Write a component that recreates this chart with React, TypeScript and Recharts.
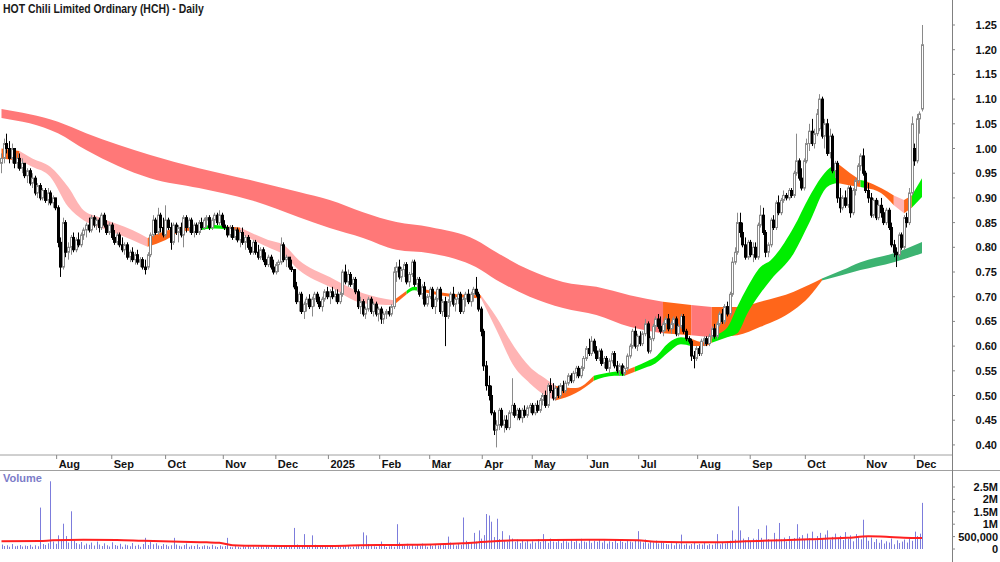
import React from 'react';
import { ComposedChart, Bar, Area, Line, XAxis, YAxis } from 'recharts';

const FONT = '"Liberation Sans", Arial, Helvetica, sans-serif';

// daily bars [open, high, low, close] in cents, Jul 2024 -> Dec 2025
const ohlc: number[][] = [
  [97,99,95,98],[98,102,97,101],[101,103,99,100],[100,101.5,97,98],[98,101,97,100],
  [100,100,96,97],[97,99,96,98],[98,99,95.5,96],[96,98,95,97],[97,97,94,94.5],
  [94.5,96,93,95.5],[95.5,96,92.5,93],[93,95,92,94],[94,94.5,90.5,91],[91,93,90,92.5],
  [92.5,93,89.5,90],[90,92,89.5,91.5],[91.5,92,89,89.5],[89.5,92,88.5,91],[91,91.5,88.5,89],
  [89,90.5,88,90],[90,90,87.5,88],[88,88.5,80,81],[81,82,74,76],[76,86,75.5,85],
  [85,85.5,78,79],[79,81,77.5,80],[80,82.5,78.5,82],[82,83,79,79.5],[79.5,82,79,81.5],
  [81.5,83,80,80.5],[80.5,83,80,82.5],[82.5,84,81.5,83.5],[83.5,85,82,84.5],[84.5,86,83,83.5],
  [83.5,86.5,83,86],[86,86.5,84,84.5],[84.5,86,83.5,85.5],[85.5,86,83,84],[84,87,83.5,86.5],
  [86.5,87,84,84.5],[84.5,85.5,82.5,83],[83,85,82.5,84.5],[84.5,85,81.5,82],[82,83.5,80.5,81],
  [81,83,80.5,82.5],[82.5,83,80,80.5],[80.5,82,79,79.5],[79.5,81,78.5,80.5],[80.5,81,77.5,78],
  [78,79.5,77,79],[79,80,77,77.5],[77.5,79,76.5,78.5],[78.5,79.5,76.5,77],[77,78,76,77.5],
  [77.5,78,75.5,76],[76,77.5,74.5,75.5],[76,79,75.5,78.5],[78.5,83,78,82.5],[82.5,86.5,82,85.5],
  [85.5,86,82.5,83],[83,88,82.5,86.5],[86.5,87,83,84],[84,86,82,82.5],[82.5,88.5,82,85.5],
  [85.5,86,83.5,84],[84,85,79.5,81],[81,85,80.5,84.5],[84.5,85,82.5,83],[83,84.5,81,84],
  [84,85,82,82.5],[82.5,86.5,80,86],[86,86.5,83,84],[84,86,83,85.5],[85.5,86,82.5,83],
  [83,85,82,84.5],[84.5,85,82.5,83],[83,85.5,82.5,85],[85,86,83.5,84],[84,86,83.5,85.5],
  [85.5,86.5,84,86],[86,86.5,83.5,84],[84,86,83.5,85.5],[85.5,87,84.5,86.5],[86.5,87,84.5,85],
  [85,87.5,84.5,86.5],[86.5,87,84,84.5],[84.5,85.5,83.5,84],[84,84.5,82,82.5],[82.5,84.5,82,84],
  [84,84.5,81.5,82],[82,84,81.5,83.5],[83.5,84,81,81.5],[81.5,83.5,80,83],[83,84,80.5,81],
  [81,82.5,79.5,82],[82,82.5,79.5,80],[80,81.5,78.5,79],[79,81.5,78.5,81],[81,81.5,78.5,79],
  [79,80.5,77.5,78],[78,80,77.5,79.5],[79.5,80,77,77.5],[77.5,79,76,76.5],[76.5,78.5,76,78],
  [78,78.5,75.5,76],[76,77.5,74.5,75],[75,77,74.5,76.5],[76.5,77.5,75,77],[77,82,76.5,80.5],
  [80.5,81,77,77.5],[77.5,78.5,76,78],[78,78,75.5,76],[76,77.5,75,75.5],[75.5,75.5,71.5,72],
  [72,73,68.5,69],[69,71,67,70.5],[70.5,71,66.5,67],[67,69,65.5,68.5],[68.5,70,67,69.5],
  [69.5,70.5,67.5,68],[68,70,66,69.5],[69.5,71,68,70.5],[70.5,71,68.5,69],[69,70,67.5,68],
  [68,70,67,69.5],[69.5,71.5,69,71],[71,72,69.5,70],[70,71.5,68.5,71],[71,72,69.5,70],
  [70,71.5,69,70.5],[70.5,71.5,68.5,69],[69,71,68.5,70.5],[70.5,75.5,70,75],[75,76.5,72.5,73],
  [73,75.5,72,74.5],[74.5,75,72,72.5],[72.5,74,71.5,73.5],[73.5,74,70.5,71],[71,71.5,67.5,68],
  [68,70,66.5,69],[69,69.5,66,66.5],[66.5,68,65.5,67.5],[67.5,70,67,69.5],[69.5,70,66.5,67],
  [67,69,66,68.5],[68.5,69,66,66.5],[66.5,68,65,67.5],[67.5,68,64.5,65.5],[65.5,67,64.5,66.5],
  [66.5,67.5,65.5,67],[67,68,66,66.5],[66.5,68.5,66,68],[68,76,67.5,75],[75,77,73,76],
  [76,77.5,73.5,74],[74,76,73,75.5],[75.5,77,74,76.5],[76.5,77,72.5,73],[73,75,72,74.5],
  [74.5,77.5,74,77],[77,77.5,72,72.5],[72.5,74,71,73.5],[73.5,74,70,70.5],[70.5,72.5,69.5,72],
  [72,73,68,68.5],[68.5,70.5,68,70],[70,72,69.5,71.5],[71.5,72,67.5,68],[68,70,66.5,69.5],
  [69.5,72,69,71.5],[71.5,72,66.5,67],[67,69.5,66,69],[69,70,60,66],[66,69.5,65.5,69],
  [69,71,68,70.5],[70.5,72,68,68.5],[68.5,70,67,69.5],[69.5,71,68.5,70.5],[70.5,71,66.5,67],
  [67,70,66.5,69.5],[69.5,71,68,70.5],[70.5,71.5,68.5,69],[69,71,68,70.5],[70.5,72,69,71.5],
  [71.5,74,70,70.5],[70.5,71,67,67.5],[67.5,68,62,63],[63,63.5,55,56],[56,57,51,52],
  [52,54,49,50],[50,52,46,46.5],[46.5,47,42,43],[43,45,39.5,44],[44,47.5,43,47],
  [47,47.5,43.5,44],[44,46,42.5,45],[45,46,43,43.5],[43.5,47,43,46.5],[46.5,53.5,46,48],
  [48,48.5,45.5,46],[46,47.5,45,47],[47,47.5,45,45.5],[45.5,47.5,44.5,47],[47,48,45.5,46],
  [46,48,45.5,47.5],[47.5,48.5,46.5,48],[48,48.5,46,46.5],[46.5,48.5,46,48],[48,49,46.5,47],
  [47,49.5,46.5,49],[49,50.5,48,50],[50,51,47.5,48],[48,52.5,47.5,52],[52,53.5,50.5,51],
  [51,52.5,49,49.5],[49.5,52,49,51.5],[51.5,52,49.5,50],[50,52.5,49.5,52],[52,53,50.5,51],
  [51,53,50.5,52.5],[52.5,54.5,52,54],[54,54.5,52.5,53],[53,55,52.5,54.5],[54.5,56,53.5,55.5],
  [55.5,56,53.5,54],[54,56,53.5,55.5],[55.5,58,55,57.5],[57.5,60,57,59.5],[59.5,61.5,58,58.5],
  [58.5,62,58,61],[61,61.5,58.5,59],[59,60,57,57.5],[57.5,59.5,57,59],[59,59.5,56,56.5],
  [56.5,58,55.5,57.5],[57.5,58,55,55.5],[55.5,57.5,54.5,57],[57,59,56.5,58.5],[58.5,59,55.5,56],
  [56,57,54.5,55],[55,56.5,54,56],[56,56.5,54,54.5],[54.5,56,54,55.5],[55.5,58.5,55,58],
  [58,60.5,57.5,60],[60,63.5,59.5,63],[63,64,59.5,60],[60,62.5,59,62],[62,63,60,60.5],
  [60.5,63,60,62.5],[62.5,65.5,62,64.5],[64.5,65,58.5,59],[59,62,58.5,61.5],[61.5,64.5,61,64],
  [64,66,63,65.5],[65.5,66.5,63.5,64],[64,66,62.5,63],[63,65,62,64.5],[64.5,66,63,65.5],
  [65.5,66.5,63,63.5],[63.5,65,62.5,64.5],[64.5,66,63.5,65.5],[65.5,66,62,62.5],[62.5,64.5,62,64],
  [64,66.5,63.5,66],[66,66.5,62.5,63],[63,63.5,61,61.5],[61.5,62,60.5,61],[61,61.5,57,58],
  [58,59,55.5,57.5],[57.5,60,57,59.5],[59.5,60,58,58.5],[58.5,61.5,58,61],[61,62,60,61.5],
  [61.5,62,60,60.5],[60.5,62.5,60,62],[62,64,61.5,63.5],[63.5,64.5,61.5,62],[62,65,61.5,64.5],
  [64.5,67,64,66.5],[66.5,67.5,64.5,65],[65,68.5,64.5,68],[68,69,66,66.5],[66.5,71,66,70.5],
  [70.5,78,70,77],[77,80,76.5,79],[79,87,78.5,85],[85,87,82,83],[83,85,80,80.5],
  [80.5,82,77.5,78],[78,81.5,77.5,81],[81,81.5,78,78.5],[78.5,81,77,80],[80,81,77.5,78],
  [78,85,77.5,84.5],[84.5,88.5,84,86.5],[86.5,88,82.5,83],[83,83.5,78,79],[79,81,78,80.5],
  [80.5,86,80,85.5],[85.5,86.5,83.5,84],[84,89.5,83.5,89],[89,90.5,86.5,87],[87,90,86.5,89.5],
  [89.5,91.5,89,90.5],[90.5,91,89.5,90],[90,92,89.5,91.5],[91.5,92,90,90.5],[90.5,95.5,90,95],
  [95,103,94.5,97.5],[97.5,98,93.5,94],[94,96,91.5,92],[92,98,91.5,97.5],[97.5,102,97,101],
  [101,105,99.5,103.5],[103.5,106,100.5,101],[101,104,100,103],[103,108,102.5,107],[104,111,103.5,110],
  [110,110.5,102,102.5],[102.5,106,100,105],[105,106,98.5,99],[99,104,98,102.5],[102.5,103,95,95.5],
  [95.5,97.5,94,97],[97,97.5,89,90],[90,92,87,88],[88,90.5,87.5,90],[90,91.5,88,88.5],
  [88.5,92.5,88,92],[92,92.5,86,87],[87,92,86.5,91.5],[91.5,94,90.5,93.5],[93.5,97,93,96.5],
  [96.5,99,95.5,98.5],[98.5,100,94.5,95],[95,95.5,91,91.5],[91.5,93,89,90],[90,91,86,86.5],
  [86.5,90,86,89.5],[89.5,90,85.5,86],[86,89.5,85.5,88.5],[88.5,90,86,87],[87,88,84.5,85],
  [85,88,84.5,87.5],[87.5,88,83.5,84],[84,85,80,80.5],[80.5,81.5,78,79],[79,80,76,78.5],
  [78.5,83,78,82.5],[82.5,83,79.5,80],[80,86.5,79.5,86],[86,87,84,85],[85,92,84.5,91],
  [91,106.5,90.5,105],[100,101,96.5,97.5],[97.5,107,97,106],[106,107.5,103,107],[108,125,107.5,121],
];

// daily volume, thousands of shares
const volumeK: number[] = [
  180,120,150,90,200,110,130,160,100,140, 120,170,90,150,110,1670,200,160,230,2730,
  300,210,550,380,1020,520,260,1520,340,240, 190,280,150,220,170,260,140,300,180,120,
  230,150,100,270,160,130,210,90,180,150, 110,240,130,170,90,200,450,160,280,190,
  230,140,120,200,170,110,150,450,180,130, 100,160,220,90,140,120,180,80,110,150,
  130,90,170,110,80,140,100,120,450,90, 70,120,90,60,110,80,130,70,100,60,
  90,120,70,140,80,60,110,90,70,130, 100,80,120,150,850,180,90,140,600,130,
  100,550,170,90,120,80,140,70,110,90, 60,130,80,100,160,120,70,90,110,140,
  90,670,550,200,130,110,90,140,300,120, 80,110,150,90,1000,260,180,140,210,120,
  160,100,190,130,220,150,90,170,120,200, 140,180,230,150,500,260,190,140,210,170,
  1270,330,240,280,650,300,750,420,560,1410, 1350,1100,480,1220,400,720,360,300,550,420,
  290,380,240,330,270,350,220,310,260,400, 280,600,330,250,420,300,270,380,240,350,
  310,260,390,280,340,230,410,300,270,360, 250,330,290,400,260,350,220,310,280,370,
  240,330,290,250,360,300,270,340,720,310, 260,380,230,300,270,340,220,290,250,200,
  180,230,150,260,190,580,170,220,140,200, 250,160,210,180,240,150,200,170,230,600,
  190,260,220,300,340,750,380,1720,750,420, 350,480,300,420,380,800,450,360,950,400,
  330,650,410,1050,380,460,300,520,350,440, 1000,480,560,390,620,430,700,350,520,650,
  410,580,750,380,490,620,440,530,360,680, 420,550,310,600,470,390,1180,520,330,460,
  280,400,250,370,220,310,260,420,190,350, 240,300,380,260,450,330,700,520,620,1860,
];

// volume moving average [bar, thousands]
const volumeMa: number[][] = [
  [0,310],[15,320],[20,350],[32,370],[45,360],[55,330],[70,290],[80,270],[85,250],[90,150],
  [95,130],[110,125],[130,125],[140,150],[155,165],[170,190],[180,230],[190,300],[200,350],[215,360],
  [235,370],[248,350],[255,290],[265,270],[280,275],[290,310],[300,340],[315,390],[330,450],[338,510],
  [345,490],[352,450],[359,440],
];

// short-term ribbon [bar, low, high, state]  p=down o=mixed l=up
const fastRibbon: any[][] = [
  [0,.98,1.0,'o'],[7,.975,.995,'p'],[12,.963,.98,'p'],[19,.943,.963,'p'],[26,.882,.922,'p'],
  [32,.855,.875,'p'],[38,.841,.861,'p'],[51,.815,.835,'p'],[57,.801,.819,'o'],[64,.815,.833,'o'],
  [71,.833,.842,'o'],[77,.834,.841,'l'],[83,.838,.845,'l'],[88,.836,.842,'o'],[93,.828,.84,'p'],
  [104,.80,.815,'p'],[110,.785,.805,'p'],[116,.754,.774,'p'],[128,.72,.74,'p'],[141,.687,.707,'p'],
  [153,.683,.693,'o'],[158,.705,.712,'l'],[161,.713,.72,'l'],[164,.71,.716,'o'],[175,.70,.706,'o'],
  [187,.697,.703,'p'],[193,.633,.659,'p'],[200,.558,.598,'p'],[206,.525,.558,'p'],[213,.497,.531,'p'],
  [216,.49,.52,'o'],[224,.505,.515,'o'],[231,.53,.54,'l'],[239,.54,.548,'l'],[243,.54,.55,'o'],
  [247,.548,.558,'l'],[252,.558,.57,'l'],[255,.565,.578,'l'],[260,.587,.606,'l'],[265,.604,.618,'l'],
  [269,.60,.615,'o'],[274,.60,.608,'o'],[277,.607,.62,'l'],[283,.618,.637,'l'],[287,.626,.68,'l'],
  [291,.667,.72,'l'],[296,.707,.76,'l'],[300,.734,.774,'l'],[309,.788,.841,'l'],[315,.849,.902,'l'],
  [322,.922,.956,'l'],[326,.93,.97,'o'],[331,.925,.95,'o'],[335,.922,.936,'l'],[337,.92,.934,'o'],
  [343,.91,.92,'o'],[348,.885,.905,'p'],[352,.869,.896,'o'],[355,.88,.905,'l'],[359,.902,.94,'l'],
];

// long-term ribbon [bar, low, high, state]  r=down o=mixed g=up
const slowRibbon: any[][] = [
  [0,1.062,1.08,'r'],[22,1.031,1.054,'r'],[33,.997,1.031,'r'],[58,.94,.987,'r'],[77,.92,.96,'r'],
  [97,.896,.936,'r'],[116,.861,.912,'r'],[128,.839,.896,'r'],[141,.819,.871,'r'],[154,.795,.851,'r'],
  [167,.788,.841,'r'],[185,.76,.815,'r'],[193,.734,.79,'r'],[206,.70,.754,'r'],[219,.677,.73,'r'],
  [232,.663,.72,'r'],[245,.639,.703,'r'],[258,.626,.69,'o'],[269,.622,.683,'r'],[277,.618,.679,'o'],
  [287,.622,.679,'o'],[296,.639,.69,'o'],[309,.673,.71,'o'],[315,.70,.724,'o'],[320,.733,.737,'g'],
  [328,.744,.754,'g'],[335,.754,.77,'g'],[348,.77,.788,'g'],[359,.788,.811,'g'],
];

const monthIdx = [21.5, 43, 64, 86.5, 107, 127.5, 147.5, 167, 187.5, 207, 228.5, 248.5, 271.5, 292, 313.5, 336.5, 356];
const monthLabels = ['Aug','Sep','Oct','Nov','Dec','2025','Feb','Mar','Apr','May','Jun','Jul','Aug','Sep','Oct','Nov','Dec'];
const priceTicks = [0.4,0.45,0.5,0.55,0.6,0.65,0.7,0.75,0.8,0.85,0.9,0.95,1.0,1.05,1.1,1.15,1.2,1.25];
const volTicks = [0, 500000, 1000000, 1500000, 2000000, 2500000];
const volTickLabels = ['0', '500,000', '1M', '1.5M', '2M', '2.5M'];

const COLORS: Record<string, string> = {
  r: '#ff7878', p: '#ffb4b4', o: '#ff661a', l: '#00ee00', g: '#3cb371',
};

const X_DOMAIN = [-0.585, 370.7];

const bars = ohlc.map(([o, h, l, c], i) => ({
  i, o: o / 100, h: h / 100, l: l / 100, c: c / 100, v: volumeK[i] * 1000,
}));

const maData = volumeMa.map(([i, k]) => ({ i, v: k * 1000 }));

// split a ribbon into runs of one colour, each run joined to the next point
function toRuns(points: any[][]) {
  const runs: { c: string; rows: any[] }[] = [];
  let cur: { c: string; rows: any[] } | null = null;
  points.forEach(([i, lo, hi, c]) => {
    const row = { i, r: [lo, hi] };
    if (!cur || cur.c !== c) {
      if (cur) cur.rows.push(row);
      cur = { c, rows: [row] };
      runs.push(cur);
    } else {
      cur.rows.push(row);
    }
  });
  return runs.filter((r) => r.rows.length > 1);
}

const slowRuns = toRuns(slowRibbon);
const fastRuns = toRuns(fastRibbon);

function Candle(props: any) {
  const { x, y, width, height, payload } = props;
  if (!payload || x == null) return null;
  const { o, h, l, c } = payload;
  const top = Math.min(y, y + height);
  const px = Math.abs(height);
  const span = h - l || 1;
  const py = (v: number) => top + ((h - v) / span) * px;
  const cx = Math.round(x + width / 2);
  const up = c >= o;
  const col = up ? '#8a8a8a' : '#000';
  const bTop = py(Math.max(o, c));
  const bBot = py(Math.min(o, c));
  return (
    <g>
      <line x1={cx + 0.5} x2={cx + 0.5} y1={top} y2={top + px} stroke={col} strokeWidth={1} />
      <rect x={cx - 0.5} y={bTop} width={2} height={Math.max(bBot - bTop, 0.5)}
        fill={up ? '#fff' : '#000'} stroke={col} strokeWidth={1} />
    </g>
  );
}

function VolBar(props: any) {
  const { x, y, width, height } = props;
  if (x == null || !height) return null;
  return <rect x={Math.round(x + width / 2)} y={y} width={1} height={height} fill="#7c7cdc" />;
}

function PriceTick(props: any) {
  const { y, payload } = props;
  return (
    <text x={997} y={y} dy={4} textAnchor="end" fontSize={11} fontWeight="bold" fontFamily={FONT} fill="#111">
      {Number(payload.value).toFixed(2)}
    </text>
  );
}

function VolTick(props: any) {
  const { y, payload } = props;
  const k = volTicks.indexOf(payload.value);
  return (
    <text x={998} y={y} dy={4} textAnchor="end" fontSize={11} fontWeight="bold" fontFamily={FONT} fill="#111">
      {volTickLabels[k]}
    </text>
  );
}

function MonthTick(props: any) {
  const { x, y, payload } = props;
  const k = monthIdx.indexOf(payload.value);
  return (
    <text x={x + 2} y={y} dy={9} textAnchor="start" fontSize={11} fontWeight="bold" fontFamily={FONT} fill="#111">
      {monthLabels[k]}
    </text>
  );
}

export default function App() {
  return (
    <div style={{ position: 'absolute', left: 0, top: 0, width: 1000, height: 562, background: '#fff', overflow: 'hidden', fontFamily: FONT }}>
      <ComposedChart width={1000} height={470} data={bars} margin={{ top: 0, right: 0, bottom: 0, left: 0 }}>
        <XAxis dataKey="i" type="number" domain={X_DOMAIN} allowDataOverflow ticks={monthIdx}
          interval={0} height={15} tickSize={4} tickMargin={0} tick={<MonthTick />}
          axisLine={{ stroke: '#a0a0a0' }} tickLine={{ stroke: '#888' }} />
        <YAxis orientation="right" width={48} domain={[0.3796, 1.3006]} allowDataOverflow
          ticks={priceTicks} interval={0} tickSize={3} axisLine={false}
          tickLine={{ stroke: '#888' }} tick={<PriceTick />} />
        {slowRuns.map((run, k) => (
          <Area key={'s' + k} data={run.rows} dataKey="r" type="monotone" stroke="none"
            fill={COLORS[run.c]} fillOpacity={1} dot={false} activeDot={false} isAnimationActive={false} />
        ))}
        {fastRuns.map((run, k) => (
          <Area key={'f' + k} data={run.rows} dataKey="r" type="monotone" stroke="none"
            fill={COLORS[run.c]} fillOpacity={1} dot={false} activeDot={false} isAnimationActive={false} />
        ))}
        <Bar dataKey={(d: any) => [d.l, d.h]} barSize={3} shape={<Candle />} isAnimationActive={false} />
      </ComposedChart>

      <div style={{ position: 'absolute', left: 3, top: 2, fontSize: 12, fontWeight: 'bold', color: '#1a1a1a', lineHeight: '14px', whiteSpace: 'nowrap', transform: 'scaleX(0.87)', transformOrigin: 'left top' }}>
        HOT Chili Limited Ordinary (HCH) - Daily
      </div>

      <div style={{ position: 'absolute', left: 0, top: 470, width: 1000, borderTop: '1px solid #a0a0a0' }} />
      <div style={{ position: 'absolute', left: 952, top: 0, width: 1, height: 562, background: '#808080' }} />

      <div style={{ position: 'absolute', left: 0, top: 470 }}>
        <ComposedChart width={1000} height={92} data={bars} margin={{ top: 0, right: 0, bottom: 13, left: 0 }}>
          <XAxis dataKey="i" type="number" domain={X_DOMAIN} allowDataOverflow hide />
          <YAxis orientation="right" width={48} domain={[0, 3185000]} allowDataOverflow
            ticks={volTicks} interval={0} tickSize={3} axisLine={false}
            tickLine={{ stroke: '#888' }} tick={<VolTick />} />
          <Bar dataKey="v" barSize={1} shape={<VolBar />} isAnimationActive={false} />
          <Line data={maData} dataKey="v" type="monotone" stroke="#ff2020" strokeWidth={2}
            dot={false} activeDot={false} isAnimationActive={false} />
        </ComposedChart>
        <div style={{ position: 'absolute', left: 3, top: 2, fontSize: 11, fontWeight: 'bold', color: '#7c7cc8' }}>
          Volume
        </div>
      </div>
    </div>
  );
}
